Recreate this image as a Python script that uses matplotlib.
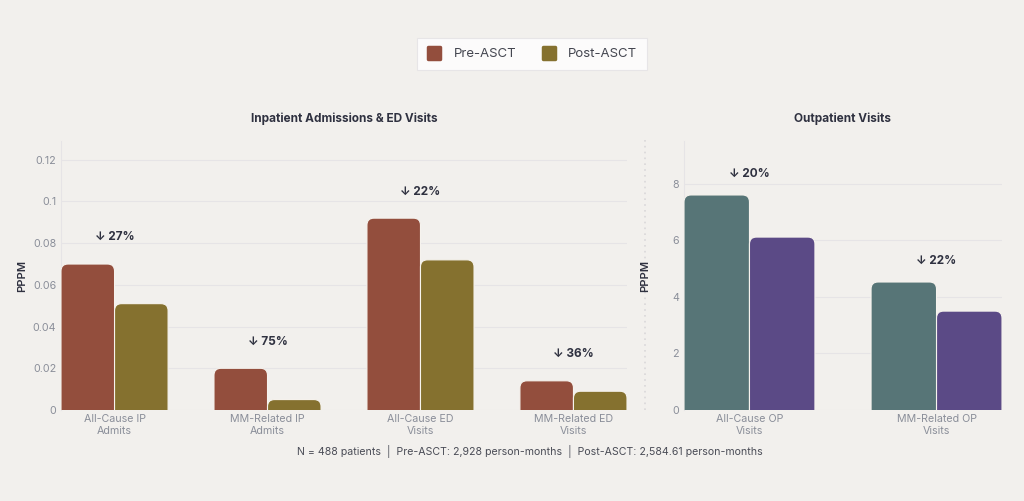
import numpy as np
import matplotlib
matplotlib.use("Agg")
import matplotlib.pyplot as plt
from matplotlib.patches import FancyBboxPatch
from matplotlib.lines import Line2D
from matplotlib.markers import MarkerStyle

plt.rcParams['font.family'] = ['Inter', 'DejaVu Sans']

# data
ip_cats = ['All-Cause IP\nAdmits', 'MM-Related IP\nAdmits', 'All-Cause ED\nVisits', 'MM-Related ED\nVisits']
ip_pre = [0.070, 0.020, 0.092, 0.014]
ip_post = [0.051, 0.005, 0.072, 0.009]
ip_drop = ['↓ 27%', '↓ 75%', '↓ 22%', '↓ 36%']

op_cats = ['All-Cause OP\nVisits', 'MM-Related OP\nVisits']
op_pre = [7.61, 4.53]
op_post = [6.12, 3.50]
op_drop = ['↓ 20%', '↓ 22%']

ip_ticks = [0, 0.02, 0.04, 0.06, 0.08, 0.1, 0.12]
op_ticks = [0, 2, 4, 6, 8]

BG = '#f2f0ed'
PRE_C, POST_C = '#934e3d', '#85712f'
OP_PRE_C, OP_POST_C = '#577577', '#5b4a86'
GRID = '#e6e4e6'
TICK = '#8a8e99'
DARK = '#2f3140'

W, H = 1024, 501
fig = plt.figure(figsize=(W / 100, H / 100), dpi=100, facecolor=BG)


def px(x0, y0, x1, y1):
    return [x0 / W, 1 - y1 / H, (x1 - x0) / W, (y1 - y0) / H]


def rounded_bars(ax, xs, heights, width, color, radius_px=7):
    fig.canvas.draw()
    bb = ax.get_window_extent()
    x0, x1 = ax.get_xlim()
    y0, y1 = ax.get_ylim()
    ux = (x1 - x0) / bb.width
    uy = (y1 - y0) / bb.height
    r = radius_px * ux
    for x, h in zip(xs, heights):
        p = FancyBboxPatch((x - width / 2, -3 * radius_px * uy), width, h + 3 * radius_px * uy,
                           boxstyle=f"round,pad=0,rounding_size={r}",
                           mutation_aspect=uy / ux,
                           facecolor=color, edgecolor='#f6f3ee', linewidth=0.8,
                           zorder=3)
        p.set_clip_on(True)
        ax.add_patch(p)


def style(ax, ticks, ylim, title):
    ax.set_facecolor(BG)
    ax.set_ylim(*ylim)
    ax.set_yticks(ticks)
    ax.set_yticklabels([f"{t:g}" for t in ticks])
    ax.grid(axis='y', color=GRID, linewidth=0.8, zorder=0)
    for s in ['top', 'right', 'bottom']:
        ax.spines[s].set_visible(False)
    ax.spines['left'].set_color(GRID)
    ax.tick_params(axis='both', length=0, colors=TICK, labelsize=7.7)
    ax.tick_params(axis='x', pad=3)
    ax.set_ylabel('PPPM', color=DARK, fontsize=8, fontweight='semibold')
    ax.set_title(title, color=DARK, fontsize=8.5, fontweight='bold', pad=14)


w = 0.35
ax1 = fig.add_axes(px(61, 141, 627, 410))
x1 = np.arange(len(ip_cats))
ax1.set_xlim(-0.35, len(ip_cats) - 1 + 0.35)
ax1.set_xticks(x1)
ax1.set_xticklabels(ip_cats)
style(ax1, ip_ticks, (0, 0.129), 'Inpatient Admissions & ED Visits')
rounded_bars(ax1, x1 - w / 2, ip_pre, w, PRE_C)
rounded_bars(ax1, x1 + w / 2, ip_post, w, POST_C)
for x, a, b, t in zip(x1, ip_pre, ip_post, ip_drop):
    ax1.text(x, max(a, b) + 0.0128, t, ha='center', va='center', fontsize=8.5,
             fontweight='bold', color=DARK, zorder=4)
ax1.yaxis.set_label_coords(-0.06, 0.5)

ax2 = fig.add_axes(px(684, 141, 1002, 410))
x2 = np.arange(len(op_cats))
ax2.set_xlim(-0.35, len(op_cats) - 1 + 0.35)
ax2.set_xticks(x2)
ax2.set_xticklabels(op_cats)
style(ax2, op_ticks, (0, 9.52), 'Outpatient Visits')
rounded_bars(ax2, x2 - w / 2, op_pre, w, OP_PRE_C)
rounded_bars(ax2, x2 + w / 2, op_post, w, OP_POST_C)
for x, a, b, t in zip(x2, op_pre, op_post, op_drop):
    ax2.text(x, max(a, b) + 0.74, t, ha='center', va='center', fontsize=8.5,
             fontweight='bold', color=DARK, zorder=4)
ax2.yaxis.set_label_coords(-0.107, 0.5)

# dotted separator between panels
fig.add_artist(Line2D([645 / W, 645 / W], [1 - 140 / H, 1 - 410 / H], color='#d9d7d9',
                      linestyle=(0, (1, 2.5)), linewidth=1.2, zorder=0))

sq = MarkerStyle('s', joinstyle='round')
handles = [Line2D([], [], marker=sq, linestyle='none', markersize=8, markeredgewidth=2.5,
                  markerfacecolor=c, markeredgecolor=c) for c in (PRE_C, POST_C)]
leg = fig.legend(handles, ['Pre-ASCT', 'Post-ASCT'], loc='center', ncol=2,
                 bbox_to_anchor=(532 / W, 1 - 54 / H), frameon=True, fancybox=False,
                 fontsize=9.5, handletextpad=0.9, columnspacing=1.8, borderpad=0.75,
                 handlelength=1.2, borderaxespad=0)
leg.get_frame().set_facecolor('white')
leg.get_frame().set_edgecolor('#e4e2e4')
leg.get_frame().set_linewidth(0.8)
for t in leg.get_texts():
    t.set_color('#444650')

fig.text(530 / W, 1 - 452 / H,
         'N = 488 patients  |  Pre-ASCT: 2,928 person-months  |  Post-ASCT: 2,584.61 person-months',
         ha='center', va='center', fontsize=7.6, color='#4a4c56')

fig.savefig('out.png', dpi=100, facecolor=BG)
